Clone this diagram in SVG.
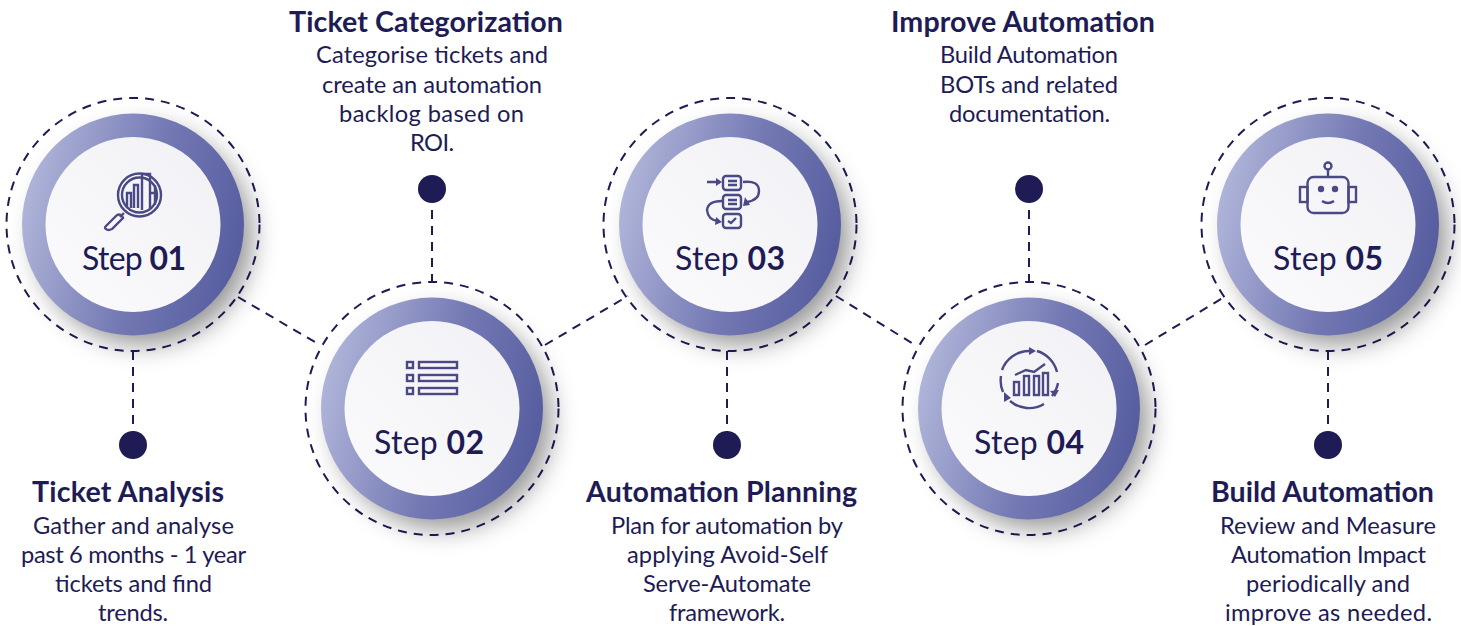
<svg xmlns="http://www.w3.org/2000/svg" width="1461" height="626" viewBox="0 0 1461 626">
<style>
text{font-family:"Lato","Open Sans","Liberation Sans",sans-serif;fill:#1e1b55;text-anchor:middle}
.t{font-size:28.600px;font-weight:700}
.b{font-size:23.700px;font-weight:400}
.s{font-size:32px;font-weight:400}
.s tspan{font-weight:700}
.ring{fill:url(#rg)}
.in{fill:url(#ig)}
.sh{fill:#000;fill-opacity:.42;filter:url(#blur)}
.d{fill:none;stroke:#1e1b55;stroke-width:2;stroke-dasharray:9 7}
.dot{fill:#1e1b55}
.ic{fill:none;stroke:#4a4885;stroke-width:2.400;filter:url(#soft)}
.if{fill:#4a4885;stroke:none}
</style>
<defs>
<linearGradient id="rg" x1="0" y1="0.35" x2="1" y2="0.6"><stop offset="0" stop-color="#b1b6da"/><stop offset=".55" stop-color="#7479b4"/><stop offset="1" stop-color="#565d9f"/></linearGradient>
<linearGradient id="ig" x1="0" y1="1" x2="1" y2="0"><stop offset="0" stop-color="#fbfbfd"/><stop offset="1" stop-color="#f1f1f5"/></linearGradient>
<filter id="blur" x="-30%" y="-30%" width="160%" height="160%"><feGaussianBlur stdDeviation="13"/></filter>
<filter id="soft" x="-10%" y="-10%" width="120%" height="120%"><feGaussianBlur stdDeviation="0.5"/></filter>
<g id="disc">
<circle class="sh" cx="11" cy="12" r="108"/>
<circle class="ring" r="111"/>
<circle class="in" r="87.500"/>
</g>
</defs>
<g id="connectors">
<path class="d" d="M238 297L320 345M545 345L628 296M836 296L915 345M1145 345L1226 296"/>
<path class="d" d="M133 351V432M432 283V203M727 351V432M1029 283V203M1328 351V432"/>
</g>
<g id="step1">
<circle class="d" cx="133" cy="224.500" r="126.500"/>
<use href="#disc" x="133" y="224.500"/>
<text class="s" x="134" y="270" textLength="104">Step <tspan>01</tspan></text>
<g class="ic"><circle cx="139.500" cy="195" r="21.500"/><circle cx="139.500" cy="195" r="17.500"/>
<path d="M127 208V193H131V208M134 208V185H138V208M142 210V174H150V210M150 193H155M155 185V205"/><path d="M124 213L120 217"/><path d="M106 226L116 216Q119 213 122 216L123 218L112 229Q108 231 106 229Q104 228 106 226Z"/></g>
<circle class="dot" cx="133" cy="445" r="14"/>
<text class="t" x="128" y="502" textLength="192">Ticket Analysis</text>
<text class="b" x="133.500" y="534" textLength="201">Gather and analyse</text>
<text class="b" x="133.500" y="563" textLength="225">past 6 months - 1 year</text>
<text class="b" x="133.500" y="592" textLength="157">tickets and find</text>
<text class="b" x="133" y="621" textLength="70">trends.</text>
</g>
<g id="step2">
<circle class="d" cx="432" cy="408.500" r="126.500"/>
<use href="#disc" x="432" y="408.500"/>
<text class="s" x="429" y="454" textLength="110">Step <tspan>02</tspan></text>
<g class="ic"><rect x="407" y="362" width="6" height="6"/><rect x="407" y="375" width="6" height="6"/><rect x="407" y="388" width="6" height="6"/><rect x="419" y="362" width="38" height="6"/><rect x="419" y="375" width="38" height="6"/><rect x="419" y="388" width="38" height="6"/></g>
<circle class="dot" cx="432" cy="189" r="14"/>
<text class="t" x="426" y="32" textLength="274">Ticket Categorization</text>
<text class="b" x="432" y="63" textLength="232">Categorise tickets and</text>
<text class="b" x="432" y="93" textLength="220">create an automation</text>
<text class="b" x="431.500" y="122" textLength="185">backlog based on</text>
<text class="b" x="432" y="151" textLength="44">ROI.</text>
</g>
<g id="step3">
<circle class="d" cx="730" cy="224.500" r="126.500"/>
<use href="#disc" x="730" y="224.500"/>
<text class="s" x="730" y="270" textLength="110">Step <tspan>03</tspan></text>
<g class="ic"><rect x="723" y="176" width="18" height="14" rx="3"/><rect x="723" y="195" width="18" height="14" rx="3"/><rect x="723" y="214" width="18" height="14" rx="3"/>
<path d="M707 182H720M728 181H737M728 185H737M728 200H737M728 204H737M728 221L731 223L736 218M743 182Q759 180 759 191Q759 200 747 202M722 201Q708 201 707 210Q708 220 718 221"/><path class="if" d="M716 178L722 182L716 186ZM745 197L750 205L743 206ZM716 217L722 222L715 225Z"/></g>
<circle class="dot" cx="727" cy="445" r="14"/>
<text class="t" x="721.500" y="502" textLength="271">Automation Planning</text>
<text class="b" x="727" y="534" textLength="232">Plan for automation by</text>
<text class="b" x="727.500" y="563" textLength="201">applying Avoid-Self</text>
<text class="b" x="727" y="592" textLength="168">Serve-Automate</text>
<text class="b" x="727" y="621" textLength="116">framework.</text>
</g>
<g id="step4">
<circle class="d" cx="1029" cy="408.500" r="126.500"/>
<use href="#disc" x="1029" y="408.500"/>
<text class="s" x="1029" y="454" textLength="110">Step <tspan>04</tspan></text>
<g class="ic"><path d="M1002 370A29 29 0 0 1 1029 351M1037 351A29 29 0 0 1 1057 372M1058 383A29 29 0 0 1 1052 396M1044 404A29 29 0 0 1 1010 401M1003 392A29 29 0 0 1 1001 376"/>
<rect x="1014" y="382" width="5" height="13"/><rect x="1024" y="376" width="5" height="19"/><rect x="1034" y="376" width="5" height="19"/><rect x="1043" y="373" width="5" height="22"/><path d="M1015 375L1026 370L1034 372L1045 364"/>
<path class="if" d="M1029 347L1036 351L1029 355ZM1050 391L1059 390L1055 397ZM1004 392L1011 398L1004 402Z"/></g>
<circle class="dot" cx="1029" cy="189" r="14"/>
<text class="t" x="1023" y="32" textLength="264">Improve Automation</text>
<text class="b" x="1029" y="63" textLength="178">Build Automation</text>
<text class="b" x="1029" y="93" textLength="178">BOTs and related</text>
<text class="b" x="1029.500" y="122" textLength="161">documentation.</text>
</g>
<g id="step5">
<circle class="d" cx="1328" cy="224.500" r="126.500"/>
<use href="#disc" x="1328" y="224.500"/>
<text class="s" x="1328" y="270" textLength="110">Step <tspan>05</tspan></text>
<g class="ic"><rect x="1307.500" y="177" width="41" height="36" rx="6"/><rect x="1300" y="187" width="7.500" height="15"/><rect x="1348.500" y="187" width="7.500" height="15"/><circle cx="1328" cy="166" r="3.500"/><path d="M1328 170V177M1322 201Q1328 205 1334 201"/>
<circle class="if" cx="1321" cy="189" r="3.200"/><circle class="if" cx="1335" cy="189" r="3.200"/></g>
<circle class="dot" cx="1328" cy="445" r="14"/>
<text class="t" x="1322.500" y="502" textLength="223">Build Automation</text>
<text class="b" x="1328" y="534" textLength="216">Review and Measure</text>
<text class="b" x="1328.500" y="563" textLength="195">Automation Impact</text>
<text class="b" x="1328" y="592" textLength="164">periodically and</text>
<text class="b" x="1328.500" y="621" textLength="207">improve as needed.</text>
</g>
</svg>
